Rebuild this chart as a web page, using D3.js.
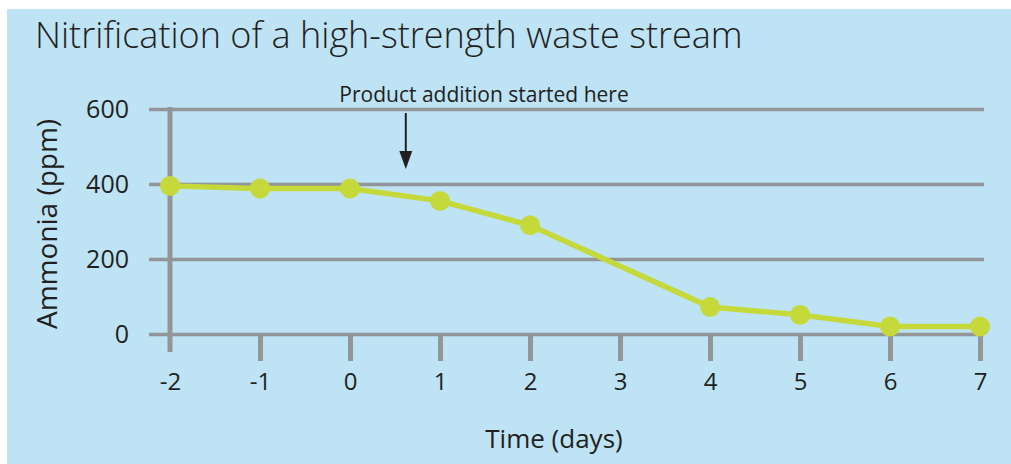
<!DOCTYPE html>
<meta charset="utf-8">
<script src="https://d3js.org/d3.v7.min.js"></script>
<title>Nitrification of a high-strength waste stream</title>
<style>
  body { margin: 0; background: white; }
  svg text { font-family: "Open Sans", "Noto Sans", sans-serif; fill: #231f20; }
</style>
<body>
<div id="chart"></div>
<script>
  // values
  var days = [-2, -1, 0, 1, 2, 4, 5, 6, 7];
  var ammonia = [395, 388, 388, 355, 290, 72, 51, 20, 20];
  var xTicks = [-2, -1, 0, 1, 2, 3, 4, 5, 6, 7];
  var yTicks = [0, 200, 400, 600];
  var additionDay = 0.62;

  var W = 1011, H = 464;
  var grey = "#939598", green = "#c5d93b", blue = "#bde3f5";

  var svg = d3.select("#chart").append("svg")
    .attr("width", W)
    .attr("height", H);

  svg.append("rect")
    .attr("x", 7).attr("y", 9)
    .attr("width", W - 7).attr("height", H - 9)
    .attr("fill", blue);

  var x = d3.scaleLinear().domain([-2, 7]).range([170, 980]);
  var y = d3.scaleLinear().domain([0, 600]).range([334, 109]);

  // horizontal grid + y labels
  var gridLeft = 149, gridRight = 984;
  var yAxis = svg.append("g")
    .attr("transform", "translate(" + gridRight + ",0)")
    .call(d3.axisLeft(y).tickValues(yTicks).tickSize(gridRight - gridLeft).tickPadding(20));
  yAxis.select(".domain").remove();
  yAxis.selectAll("line").attr("stroke", grey).attr("stroke-width", 3.5);
  yAxis.selectAll("text").style("font-size", "25px").attr("fill", "#231f20");

  // vertical axis line
  svg.append("line")
    .attr("x1", x(-2)).attr("x2", x(-2))
    .attr("y1", y(600) - 2).attr("y2", 352)
    .attr("stroke", grey).attr("stroke-width", 5);

  // x ticks + labels
  var xAxis = svg.append("g")
    .attr("transform", "translate(0,336)")
    .call(d3.axisBottom(x).tickValues(xTicks).tickSize(25).tickPadding(12)
      .tickFormat(function(d) { return d < 0 ? "-" + Math.abs(d) : d; }));
  xAxis.select(".domain").remove();
  xAxis.selectAll("line").attr("stroke", grey).attr("stroke-width", 5)
    .attr("opacity", function(d) { return d === -2 ? 0 : 1; });
  xAxis.selectAll("text").style("font-size", "24px").attr("fill", "#231f20");

  // line + points
  var pts = days.map(function(d, i) { return [d, ammonia[i]]; });
  svg.append("path")
    .datum(pts)
    .attr("fill", "none")
    .attr("stroke", green)
    .attr("stroke-width", 5.5)
    .attr("d", d3.line().x(function(d) { return x(d[0]); }).y(function(d) { return y(d[1]); }));

  svg.selectAll("circle.pt")
    .data(pts)
    .enter()
    .append("circle")
      .attr("class", "pt")
      .attr("cx", function(d) { return x(d[0]); })
      .attr("cy", function(d) { return y(d[1]); })
      .attr("r", 10)
      .attr("fill", green);

  // annotation
  svg.append("text")
    .attr("x", 484).attr("y", 102)
    .attr("text-anchor", "middle")
    .style("font-size", "21px")
    .text("Product addition started here");

  var ax = x(additionDay);
  svg.append("line")
    .attr("x1", ax).attr("x2", ax)
    .attr("y1", 113).attr("y2", 155)
    .attr("stroke", "#231f20").attr("stroke-width", 2);
  svg.append("path")
    .attr("d", "M" + (ax - 6.5) + ",151 L" + (ax + 6.5) + ",151 L" + ax + ",169 Z")
    .attr("fill", "#231f20");

  // titles
  svg.append("text")
    .attr("x", 35).attr("y", 48)
    .style("font-size", "36px")
    .style("font-weight", 300)
    .text("Nitrification of a high-strength waste stream");

  svg.append("text")
    .attr("transform", "translate(57,224) rotate(-90)")
    .attr("text-anchor", "middle")
    .style("font-size", "28px")
    .text("Ammonia (ppm)");

  svg.append("text")
    .attr("x", 554).attr("y", 448)
    .attr("text-anchor", "middle")
    .style("font-size", "26px")
    .text("Time (days)");
</script>
</body>
